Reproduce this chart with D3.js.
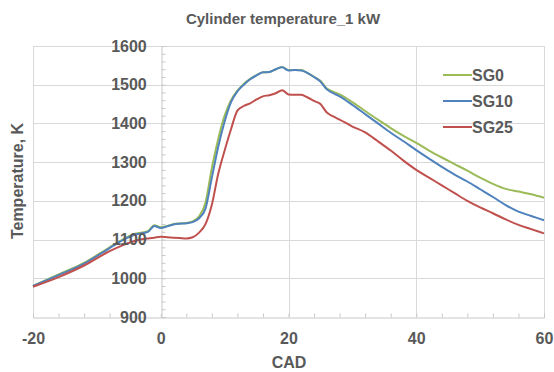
<!DOCTYPE html>
<html>
<head>
<meta charset="utf-8">
<script src="https://cdn.jsdelivr.net/npm/d3@7"></script>
<style>
  html, body { margin: 0; padding: 0; background: #ffffff; }
  svg { display: block; font-family: "Liberation Sans", Arial, sans-serif; }
</style>
</head>
<body>
<svg id="chart" width="554" height="372"></svg>
<script>
// Crank angle (deg) and cylinder temperature (K) for each start-of-gas case
const cad = [-20, -16, -12, -8, -6, -4, -2, -1, 0, 1, 2, 3, 4, 5, 6, 7, 8, 9, 10, 11, 12, 13, 14, 15, 16, 17, 18, 19, 20, 21, 22, 23, 24, 25, 26, 27, 28, 30, 32, 34, 36, 38, 40, 42, 44, 46, 48, 50, 52, 54, 56, 58, 60];
const sg0 = [980, 1010, 1040, 1080, 1100, 1115, 1122, 1137, 1132, 1135, 1140, 1142, 1143, 1147, 1160, 1195, 1285, 1360, 1420, 1460, 1485, 1502, 1515, 1525, 1532, 1533, 1540, 1546, 1538, 1538, 1538, 1530, 1520, 1510, 1490, 1482, 1475, 1455, 1432, 1410, 1388, 1368, 1350, 1330, 1312, 1295, 1278, 1260, 1244, 1231, 1224, 1217, 1208];
const sg10 = [980, 1008, 1038, 1078, 1098, 1113, 1120, 1135, 1130, 1134, 1139, 1141, 1142, 1145, 1155, 1180, 1260, 1340, 1405, 1455, 1483, 1500, 1514, 1524, 1532, 1533, 1540, 1545, 1537, 1538, 1537, 1530, 1520, 1508, 1488, 1478, 1470, 1448, 1424, 1400, 1376, 1354, 1331, 1309, 1288, 1268, 1250, 1230, 1210, 1189, 1172, 1161, 1150];
const sg25 = [978, 1003, 1033, 1070, 1085, 1097, 1103, 1105, 1107, 1106, 1105, 1104, 1103, 1106, 1118, 1140, 1190, 1270, 1330, 1385, 1433, 1445, 1452, 1462, 1470, 1473, 1478, 1486, 1475, 1474, 1474, 1467, 1458, 1450, 1428, 1418, 1410, 1392, 1377, 1354, 1330, 1304, 1280, 1260, 1240, 1220, 1200, 1183, 1168, 1152, 1138, 1127, 1116];

const seriesNames = ["SG0", "SG10", "SG25"];
const seriesColors = ["#9bbb59", "#4f81bd", "#c0504d"];
const seriesValues = [sg0, sg10, sg25];

const xTicks = [-20, 0, 20, 40, 60];
const yTicks = [900, 1000, 1100, 1200, 1300, 1400, 1500, 1600];

const titleText = "Cylinder temperature_1 kW";
const xTitle = "CAD";
const yTitle = "Temperature, K";

const textColor = "#595959";
const gridColor = "#d9d9d9";
const axisColor = "#c8c8c8";

const svg = d3.select("#chart");

const plotLeft = 33, plotRight = 544, plotTop = 46, plotBottom = 317;
const x = d3.scaleLinear().domain([-20, 60]).range([plotLeft, plotRight]);
const y = d3.scaleLinear().domain([900, 1600]).range([plotBottom, plotTop]);

// Horizontal gridlines
svg.append("g")
  .selectAll("line")
  .data(yTicks.filter(v => v > 900))
  .join("line")
  .attr("x1", plotLeft).attr("x2", plotRight)
  .attr("y1", d => Math.round(y(d)) + 0.5).attr("y2", d => Math.round(y(d)) + 0.5)
  .attr("stroke", gridColor).attr("stroke-width", 1);

// Vertical gridlines (the 0 line is the y axis)
svg.append("g")
  .selectAll("line")
  .data(xTicks.filter(v => v !== 0))
  .join("line")
  .attr("x1", d => Math.round(x(d)) + 0.5).attr("x2", d => Math.round(x(d)) + 0.5)
  .attr("y1", plotTop).attr("y2", plotBottom)
  .attr("stroke", gridColor).attr("stroke-width", 1);

// X axis line with minor ticks pointing up
const xMinor = d3.range(-20, 61, 4);
const xAxisMinor = svg.append("g")
  .attr("transform", `translate(0,${plotBottom + 0.5})`)
  .call(d3.axisTop(x).tickValues(xMinor).tickSize(4).tickFormat(""));
xAxisMinor.select(".domain").attr("stroke", axisColor);
xAxisMinor.selectAll(".tick line").attr("stroke", axisColor);

// Y axis at CAD 0 with minor ticks pointing right
const yMinor = d3.range(900, 1601, 20);
const yAxisMinor = svg.append("g")
  .attr("transform", `translate(${Math.round(x(0)) + 0.5},0)`)
  .call(d3.axisRight(y).tickValues(yMinor).tickSize(4).tickFormat(""));
yAxisMinor.select(".domain").attr("stroke", axisColor);
yAxisMinor.selectAll(".tick line").attr("stroke", axisColor);

// Temperature curves
const line = d3.line()
  .x((d, i) => x(cad[i]))
  .y(d => y(d))
  .curve(d3.curveMonotoneX);

svg.append("g")
  .selectAll("path")
  .data(seriesValues)
  .join("path")
  .attr("d", d => line(d))
  .attr("fill", "none")
  .attr("stroke", (d, i) => seriesColors[i])
  .attr("stroke-width", 2)
  .attr("stroke-linejoin", "round");

// Y tick labels, placed left of the axis at CAD 0
const yAxisLabels = svg.append("g")
  .attr("transform", `translate(${x(0)},0)`)
  .call(d3.axisLeft(y).tickValues(yTicks).tickSize(0).tickPadding(14).tickFormat(d => String(d)));
yAxisLabels.select(".domain").remove();
yAxisLabels.selectAll("text")
  .attr("fill", textColor)
  .style("font-size", "16px")
  .style("font-weight", "bold")
  .style("font-family", "'Liberation Sans', Arial, sans-serif");

// X tick labels (plain hyphen for negatives)
const xAxisLabels = svg.append("g")
  .attr("transform", `translate(0,${plotBottom})`)
  .call(d3.axisBottom(x).tickValues(xTicks).tickSize(0).tickPadding(16).tickFormat(d => String(d)));
xAxisLabels.select(".domain").remove();
xAxisLabels.selectAll("text")
  .attr("fill", textColor)
  .style("font-size", "16px")
  .style("font-weight", "bold")
  .style("font-family", "'Liberation Sans', Arial, sans-serif");

// Titles
svg.append("text")
  .attr("x", 283).attr("y", 24)
  .attr("text-anchor", "middle")
  .attr("fill", textColor)
  .style("font-size", "15px").style("font-weight", "bold")
  .text(titleText);

svg.append("text")
  .attr("x", 289).attr("y", 368)
  .attr("text-anchor", "middle")
  .attr("fill", textColor)
  .style("font-size", "16px").style("font-weight", "bold")
  .text(xTitle);

svg.append("text")
  .attr("transform", "translate(23,181) rotate(-90)")
  .attr("text-anchor", "middle")
  .attr("fill", textColor)
  .style("font-size", "16px").style("font-weight", "bold")
  .text(yTitle);

// Legend
const legend = svg.append("g").attr("transform", "translate(443,75)");
const items = legend.selectAll("g")
  .data(seriesNames)
  .join("g")
  .attr("transform", (d, i) => `translate(0,${i * 26})`);
items.append("line")
  .attr("x1", 0).attr("x2", 29)
  .attr("y1", 0).attr("y2", 0)
  .attr("stroke", (d, i) => seriesColors[i])
  .attr("stroke-width", 2);
items.append("text")
  .attr("x", 29).attr("y", 6)
  .attr("fill", textColor)
  .style("font-size", "16px").style("font-weight", "bold")
  .text(d => d);
</script>
</body>
</html>
